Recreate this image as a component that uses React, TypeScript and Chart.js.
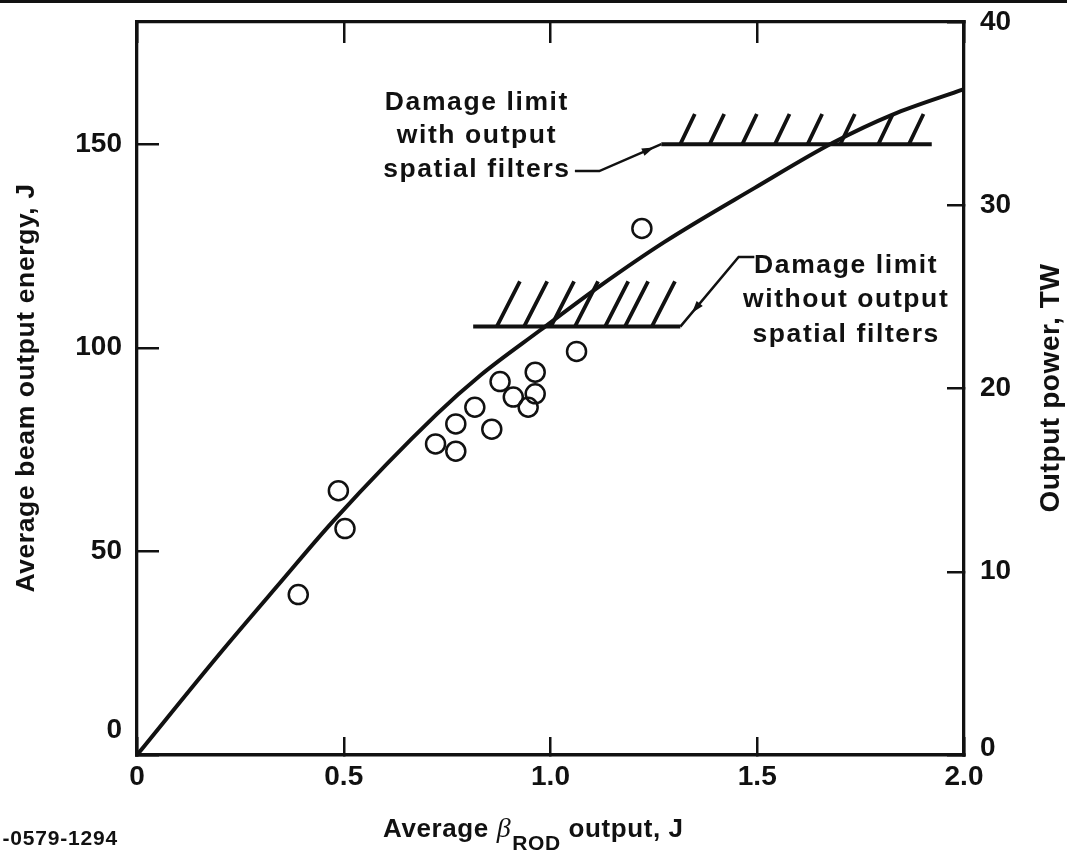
import React, { useEffect, useRef } from 'react';
import { Chart, registerables } from 'chart.js';

Chart.register(...registerables);

// ---- data ----
const rodOutput = [0.390, 0.487, 0.503, 0.722, 0.771, 0.771, 0.817, 0.858, 0.878, 0.910, 0.946, 0.963, 0.963, 1.063, 1.221];
const beamEnergy = [39.4, 64.9, 55.6, 76.4, 81.3, 74.6, 85.4, 80.0, 91.7, 87.9, 85.4, 94.0, 88.7, 99.1, 129.3];

const curveX = [0, 0.201, 0.346, 0.475, 0.725, 0.830, 0.975, 1.120, 1.276, 1.493, 1.684, 1.826, 2.0];
const curveY = [0, 25.0, 42.3, 57.5, 83.7, 93.2, 104.3, 115.2, 126.0, 139.2, 150.4, 157.2, 163.5];

const upperLimitJ = 150;
const upperLimitRange = [1.268, 1.922];
const upperHatchStarts = [1.314, 1.385, 1.464, 1.543, 1.622, 1.701, 1.793, 1.867];
const upperHatchRise = [0.035, 7.4];

const lowerLimitJ = 105.2;
const lowerLimitRange = [0.813, 1.314];
const lowerHatchStarts = [0.870, 0.936, 1.001, 1.059, 1.132, 1.180, 1.245];
const lowerHatchRise = [0.056, 11.1];

const upperLeaderX = [1.059, 1.118, 1.268];
const upperLeaderY = [143.4, 143.4, 150];
const lowerLeaderX = [1.493, 1.455, 1.314];
const lowerLeaderY = [122.3, 122.3, 105.2];

const xTicks = [0, 0.5, 1.0, 1.5, 2.0];
const xTickLabels = ['0', '0.5', '1.0', '1.5', '2.0'];
const energyTicks = [0, 50, 100, 150];
const powerTicks = [0, 10, 20, 30, 40];

const upperNote = ['Damage limit', 'with output', 'spatial filters'];
const lowerNote = ['Damage limit', 'without output', 'spatial filters'];
const upperNoteAnchor = [0.822, 158.4];
const lowerNoteAnchor = [1.715, 118.4];

const leftTitle = 'Average beam output energy, J';
const rightTitle = 'Output power, TW';
const figureCode = '-0579-1294';

// ---- styling ----
const INK = '#111';
const SANS = '"Liberation Sans", Arial, Helvetica, sans-serif';
const tickFont = { family: SANS, size: 28, weight: 'bold' as const };

function hatchData(starts: number[], base: number, rise: number[]) {
  const out: { x: number; y: number | null }[] = [];
  starts.forEach((s) => {
    out.push({ x: s, y: base });
    out.push({ x: s + rise[0], y: base + rise[1] });
    out.push({ x: s + rise[0], y: null });
  });
  return out;
}

const zip = (xs: number[], ys: number[]) => xs.map((x, i) => ({ x, y: ys[i] }));

const noPad = (s: any) => {
  s.paddingTop = 0;
  s.paddingBottom = 0;
  s.paddingLeft = 0;
  s.paddingRight = 0;
};

const notesPlugin = {
  id: 'notes',
  afterDraw(chart: any) {
    const { ctx } = chart;
    const xs = chart.scales.x;
    const ys = chart.scales.y;
    const px = (v: number) => xs.getPixelForValue(v);
    const py = (v: number) => ys.getPixelForValue(v);
    ctx.save();
    ctx.fillStyle = INK;

    // page rule at the top
    ctx.fillRect(0, 0, chart.width, 3);

    // arrowheads on the leader lines
    const arrow = (ax: number, ay: number, bx: number, by: number, t: number, len: number, half: number) => {
      const x0 = px(ax), y0 = py(ay), x1 = px(bx), y1 = py(by);
      const dx = x1 - x0, dy = y1 - y0;
      const L = Math.hypot(dx, dy);
      const ux = dx / L, uy = dy / L;
      const tx = x0 + dx * t, ty = y0 + dy * t;
      ctx.beginPath();
      ctx.moveTo(tx, ty);
      ctx.lineTo(tx - ux * len - uy * half, ty - uy * len + ux * half);
      ctx.lineTo(tx - ux * len + uy * half, ty - uy * len - ux * half);
      ctx.closePath();
      ctx.fill();
    };
    arrow(upperLeaderX[1], upperLeaderY[1], upperLeaderX[2], upperLeaderY[2], 0.88, 12, 4);
    arrow(lowerLeaderX[1], lowerLeaderY[1], lowerLeaderX[2], lowerLeaderY[2], 0.8, 12, 4);

    // annotation text
    (ctx as any).letterSpacing = '1.6px';
    ctx.font = `bold 26.5px ${SANS}`;
    ctx.textAlign = 'center';
    ctx.textBaseline = 'alphabetic';
    const ux0 = px(upperNoteAnchor[0]), uy0 = py(upperNoteAnchor[1]);
    upperNote.forEach((s, i) => ctx.fillText(s, ux0, uy0 + i * 33.5));
    const lx0 = px(lowerNoteAnchor[0]), ly0 = py(lowerNoteAnchor[1]);
    lowerNote.forEach((s, i) => ctx.fillText(s, lx0, ly0 + i * 34.5));

    // left axis title
    (ctx as any).letterSpacing = '0.6px';
    ctx.save();
    ctx.translate(34, 388);
    ctx.rotate(-Math.PI / 2);
    ctx.font = `bold 26.5px ${SANS}`;
    ctx.fillText(leftTitle, 0, 0);
    ctx.restore();

    // right axis title (reads bottom to top)
    ctx.save();
    ctx.translate(1059, 388);
    ctx.rotate(-Math.PI / 2);
    ctx.font = `bold 28px ${SANS}`;
    ctx.fillText(rightTitle, 0, 0);
    ctx.restore();

    // bottom axis title with subscript
    ctx.textAlign = 'left';
    let x = 383;
    const base = 837;
    ctx.font = `bold 26px ${SANS}`;
    ctx.fillText('Average ', x, base);
    x += ctx.measureText('Average ').width;
    ctx.font = `italic 28px "Liberation Serif", "DejaVu Serif", serif`;
    ctx.fillText('\u03B2', x, base);
    x += ctx.measureText('\u03B2').width + 1;
    ctx.font = `bold 21px ${SANS}`;
    ctx.fillText('ROD', x, base + 13);
    x += ctx.measureText('ROD').width;
    ctx.font = `bold 26px ${SANS}`;
    ctx.fillText(' output, J', x, base);

    // figure code
    (ctx as any).letterSpacing = '0.8px';
    ctx.textAlign = 'right';
    ctx.font = `bold 21px ${SANS}`;
    ctx.fillText(figureCode, 118, 845);

    ctx.restore();
  },
};

export default function App() {
  const ref = useRef<HTMLCanvasElement>(null);

  useEffect(() => {
    const canvas = ref.current;
    if (!canvas) return;

    const lineDs = (data: any[], width: number) => ({
      type: 'line' as const,
      data,
      borderColor: INK,
      borderWidth: width,
      pointRadius: 0,
      pointHoverRadius: 0,
      fill: false,
      spanGaps: false,
      xAxisID: 'x',
      yAxisID: 'y',
    });

    const chart = new Chart(canvas, {
      type: 'line',
      data: {
        datasets: [
          {
            type: 'scatter' as const,
            data: zip(rodOutput, beamEnergy),
            pointStyle: 'circle',
            pointRadius: 9.5,
            pointHoverRadius: 9.5,
            borderWidth: 2.5,
            borderColor: INK,
            backgroundColor: 'rgba(255,255,255,0)',
            xAxisID: 'x',
            yAxisID: 'y',
          } as any,
          { ...lineDs(zip(curveX, curveY), 4), cubicInterpolationMode: 'monotone' } as any,
          lineDs([{ x: upperLimitRange[0], y: upperLimitJ }, { x: upperLimitRange[1], y: upperLimitJ }], 4),
          lineDs(hatchData(upperHatchStarts, upperLimitJ, upperHatchRise), 3.8),
          lineDs([{ x: lowerLimitRange[0], y: lowerLimitJ }, { x: lowerLimitRange[1], y: lowerLimitJ }], 4),
          lineDs(hatchData(lowerHatchStarts, lowerLimitJ, lowerHatchRise), 3.8),
          lineDs(zip(upperLeaderX, upperLeaderY), 2.5),
          lineDs(zip(lowerLeaderX, lowerLeaderY), 2.5),
        ],
      },
      options: {
        animation: false,
        responsive: false,
        devicePixelRatio: 1,
        events: [],
        layout: { padding: 0, autoPadding: false },
        plugins: {
          legend: { display: false },
          tooltip: { enabled: false },
        },
        scales: {
          x: {
            type: 'linear',
            position: 'bottom',
            min: 0,
            max: 2,
            afterBuildTicks: (s: any) => { s.ticks = xTicks.map((v) => ({ value: v })); },
            afterFit: (s: any) => { s.height = 105; noPad(s); },
            ticks: {
              autoSkip: false,
              maxRotation: 0,
              padding: 23,
              color: INK,
              font: tickFont,
              callback: (v: any) => xTickLabels[xTicks.indexOf(Number(v))] ?? String(v),
            },
            grid: { drawOnChartArea: false, drawTicks: true, tickLength: -18, lineWidth: 2.5, color: INK },
            border: { display: true, width: 3.5, color: INK },
          },
          x2: {
            type: 'linear',
            position: 'top',
            min: 0,
            max: 2,
            afterBuildTicks: (s: any) => { s.ticks = xTicks.map((v) => ({ value: v })); },
            afterFit: (s: any) => { s.height = 22; noPad(s); },
            ticks: { display: false },
            grid: { drawOnChartArea: false, drawTicks: true, tickLength: -21, lineWidth: 2.5, color: INK },
            border: { display: true, width: 3.3, color: INK },
          },
          y: {
            type: 'linear',
            position: 'left',
            min: 0,
            max: 180,
            afterBuildTicks: (s: any) => { s.ticks = energyTicks.map((v) => ({ value: v })); },
            afterFit: (s: any) => { s.width = 137; noPad(s); },
            ticks: {
              padding: 37,
              color: INK,
              font: (c: any) => ({ ...tickFont, lineHeight: c.tick && c.tick.value === 0 ? '50px' : 1.2 }),
              callback: (v: any) => (Number(v) === 0 ? ['0', ''] : String(v)),
            },
            grid: { drawOnChartArea: false, drawTicks: true, tickLength: -22, lineWidth: 2.5, color: INK },
            border: { display: true, width: 3.3, color: INK },
          },
          y2: {
            type: 'linear',
            position: 'right',
            min: 0,
            max: 40,
            afterBuildTicks: (s: any) => { s.ticks = powerTicks.map((v) => ({ value: v })); },
            afterFit: (s: any) => { s.width = 103; noPad(s); },
            ticks: {
              padding: 33,
              color: INK,
              font: (c: any) => ({ ...tickFont, lineHeight: c.tick && c.tick.value === 0 ? '14px' : 1.2 }),
              callback: (v: any) => (Number(v) === 0 ? ['0', ''] : String(v)),
            },
            grid: { drawOnChartArea: false, drawTicks: true, tickLength: -17, lineWidth: 2.5, color: INK },
            border: { display: true, width: 3.3, color: INK },
          },
        },
      } as any,
      plugins: [notesPlugin as any],
    });

    return () => chart.destroy();
  }, []);

  return (
    <div style={{ position: 'fixed', left: 0, top: 0, width: 1067, height: 860, background: '#fff' }}>
      <canvas ref={ref} width={1067} height={860} style={{ display: 'block', width: 1067, height: 860 }} />
    </div>
  );
}
